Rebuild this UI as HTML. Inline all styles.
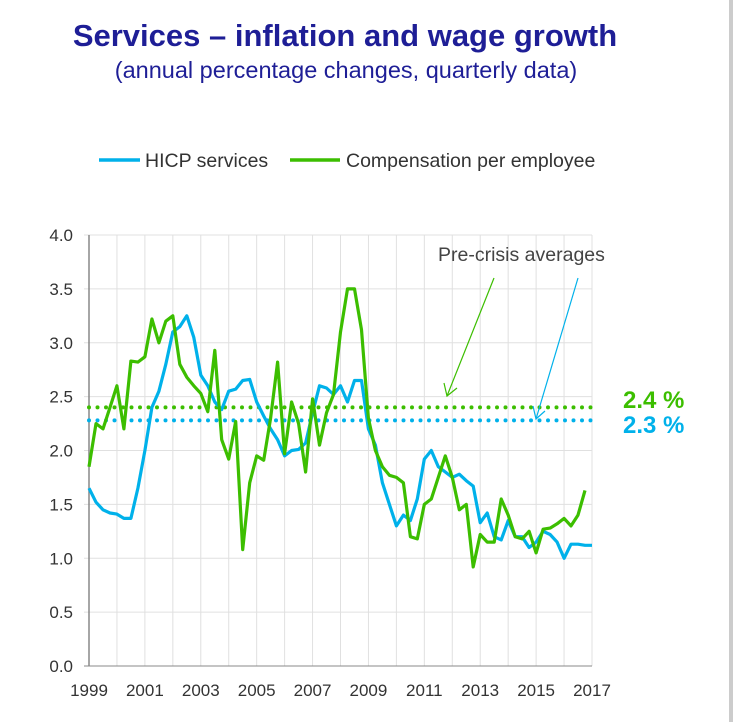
<!DOCTYPE html>
<html><head><meta charset="utf-8"><style>
body{margin:0;background:#fff;font-family:"Liberation Sans",sans-serif}
</style></head><body>
<svg width="733" height="722" xmlns="http://www.w3.org/2000/svg" font-family="Liberation Sans, sans-serif">
<rect x="729" y="0" width="4" height="722" fill="#cccccc"/>
<text x="345" y="46" text-anchor="middle" font-size="31" font-weight="bold" fill="#1e1e96">Services – inflation and wage growth</text>
<text x="346" y="78" text-anchor="middle" font-size="23.5" fill="#1e1e96">(annual percentage changes, quarterly data)</text>
<g>
<line x1="99" y1="160" x2="140" y2="160" stroke="#00b1ea" stroke-width="3.5"/>
<text x="145" y="167" font-size="19.5" fill="#333">HICP services</text>
<line x1="290" y1="160" x2="340" y2="160" stroke="#3cbe00" stroke-width="3.5"/>
<text x="346" y="167" font-size="19.5" fill="#333">Compensation per employee</text>
</g>
<g id="grid"></g><g id="axes"></g><g id="series"></g>
<text x="438" y="261" font-size="19.5" fill="#444">Pre-crisis averages</text>
<g>
<line x1="494" y1="278" x2="447" y2="396" stroke="#3cbe00" stroke-width="1.2"/>
<polyline points="444,383 447,396 457,388" fill="none" stroke="#3cbe00" stroke-width="1.2"/>
<line x1="578" y1="278" x2="536" y2="419" stroke="#00b1ea" stroke-width="1.2"/>
<polyline points="533,406 536,419 545,411" fill="none" stroke="#00b1ea" stroke-width="1.2"/>
</g>
<text x="623" y="408" font-size="24" font-weight="bold" fill="#3cbe00">2.4 %</text>
<text x="623" y="433" font-size="24" font-weight="bold" fill="#00b1ea">2.3 %</text>
</svg>
<script>
const startYear = 1999;
const hicp = [1.65,1.52,1.45,1.42,1.41,1.37,1.37,1.65,2.0,2.4,2.55,2.8,3.1,3.15,3.25,3.05,2.7,2.6,2.45,2.38,2.55,2.57,2.65,2.66,2.45,2.32,2.2,2.1,1.95,2.0,2.01,2.07,2.35,2.6,2.58,2.52,2.6,2.45,2.65,2.65,2.2,2.05,1.7,1.5,1.3,1.4,1.35,1.55,1.92,2.0,1.85,1.8,1.75,1.78,1.72,1.67,1.33,1.42,1.2,1.17,1.35,1.2,1.2,1.1,1.15,1.25,1.22,1.15,1.0,1.13,1.13,1.12,1.12];
const cpe = [1.85,2.25,2.2,2.4,2.6,2.2,2.83,2.82,2.87,3.22,3.0,3.2,3.25,2.8,2.68,2.6,2.53,2.36,2.93,2.1,1.92,2.27,1.08,1.7,1.95,1.91,2.3,2.82,1.97,2.45,2.25,1.8,2.48,2.05,2.35,2.52,3.1,3.5,3.5,3.12,2.3,2.0,1.85,1.77,1.75,1.7,1.2,1.18,1.5,1.55,1.75,1.95,1.75,1.45,1.5,0.92,1.22,1.15,1.15,1.55,1.4,1.2,1.18,1.25,1.05,1.27,1.28,1.32,1.37,1.3,1.4,1.63];
const avgHicp = 2.28, avgCpe = 2.4;
const yTicks = ["0.0","0.5","1.0","1.5","2.0","2.5","3.0","3.5","4.0"];
const xTicks = [1999,2001,2003,2005,2007,2009,2011,2013,2015,2017];
const NS="http://www.w3.org/2000/svg";
const X0=89,X1=592,Y0=666,Y1=235;
const xs=y=>X0+(y-1999)*(X1-X0)/18;
const ys=v=>Y0-v*(Y0-Y1)/4;
function mk(t,a,p){const e=document.createElementNS(NS,t);for(const k in a)e.setAttribute(k,a[k]);p.appendChild(e);return e;}
const grid=document.getElementById('grid'),axes=document.getElementById('axes'),ser=document.getElementById('series');
for(let y=1999;y<=2017;y++){const l=mk('line',{x1:xs(y),x2:xs(y),y1:Y1,y2:Y0,stroke:'#e0e0e0','stroke-width':1},grid);

}
yTicks.forEach(t=>{const v=parseFloat(t);const l=mk('line',{x1:X0-5,x2:X1,y1:ys(v),y2:ys(v),stroke:v===0?'#888':'#e0e0e0','stroke-width':1},grid);


const tx=mk('text',{x:73,y:ys(v)+6,'text-anchor':'end','font-size':17,fill:'#333'},axes);tx.textContent=t;

});
const ax=mk('line',{x1:X0,x2:X0,y1:Y1,y2:Y0,stroke:'#888','stroke-width':1.5},axes);


xTicks.forEach(y=>{const tx=mk('text',{x:xs(y),y:696,'text-anchor':'middle','font-size':17,fill:'#333'},axes);tx.textContent=y;

});
const a1=mk('line',{x1:X0,x2:X1,y1:ys(avgCpe),y2:ys(avgCpe),stroke:'#3cbe00','stroke-width':4,'stroke-dasharray':'0 8.5','stroke-linecap':'round'},ser);


const a2=mk('line',{x1:X0,x2:X1,y1:ys(avgHicp),y2:ys(avgHicp),stroke:'#00b1ea','stroke-width':4,'stroke-dasharray':'0 8.5','stroke-linecap':'round'},ser);


function pts(arr){return arr.map((v,i)=>xs(startYear+i/4).toFixed(1)+','+ys(v).toFixed(1)).join(' ');}
const p1=mk('polyline',{points:pts(hicp),fill:'none',stroke:'#00b1ea','stroke-width':3.2,'stroke-linejoin':'round'},ser);


const p2=mk('polyline',{points:pts(cpe),fill:'none',stroke:'#3cbe00','stroke-width':3.2,'stroke-linejoin':'round'},ser);


</script>
</body></html>
